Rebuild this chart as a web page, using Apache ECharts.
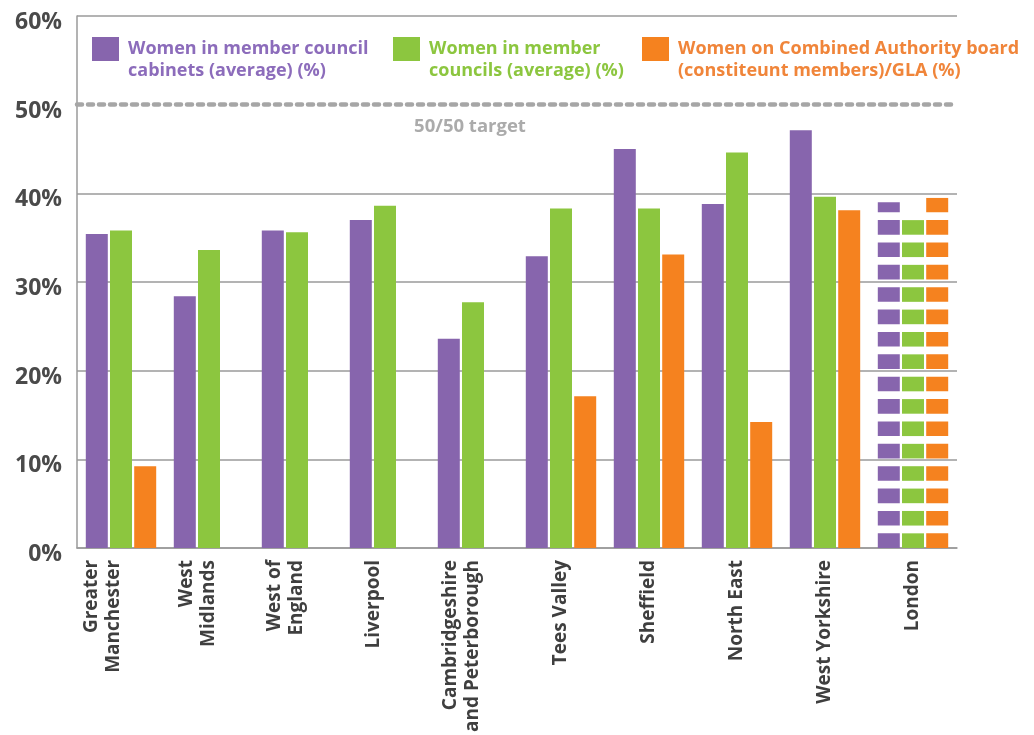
<!DOCTYPE html>
<html>
<head>
<meta charset="utf-8">
<script src="https://cdn.jsdelivr.net/npm/echarts@6/dist/echarts.min.js"></script>
<style>
  html, body { margin: 0; padding: 0; background: #ffffff; }
  #chart { width: 1034px; height: 735px; }
</style>
</head>
<body>
<div id="chart"></div>
<script>
// Combined authority areas
const categories = [
  'Greater\nManchester', 'West\nMidlands', 'West of\nEngland', 'Liverpool',
  'Cambridgeshire\nand Peterborough', 'Tees Valley', 'Sheffield', 'North East',
  'West Yorkshire', 'London'
];
// Women in member council cabinets (average) (%)
const cabinets = [35.4, 28.4, 35.8, 37.0, 23.6, 32.9, 45.0, 38.8, 47.1, 39.0];
// Women in member councils (average) (%)
const councils = [35.8, 33.6, 35.6, 38.6, 27.7, 38.3, 38.3, 44.6, 39.6, 37.0];
// Women on Combined Authority board (constituent members) / GLA (%)
const boards = [9.2, 0, 0, 0, 0, 17.1, 33.1, 14.2, 38.1, 39.5];
// London figures are drawn striped
const stripedCategory = 'London';
const yTicks = [0, 10, 20, 30, 40, 50, 60];
const target = 50;

const seriesNames = [
  'Women in member council cabinets (average) (%)',
  'Women in member councils (average) (%)',
  'Women on Combined Authority board (constituent members)/GLA (%)'
];
const legendText = [
  'Women in member council\ncabinets (average) (%)',
  'Women in member\ncouncils (average) (%)',
  'Women on Combined Authority board\n(constiteunt members)/GLA (%)'
];
const colors = ['#8765ad', '#8cc63f', '#f5821f'];
const legendColors = ['#8c6cbb', '#8cc63f', '#f0853a'];
const FONT = '"Open Sans", sans-serif';

const stripedIdx = categories.indexOf(stripedCategory);
const plain = arr => arr.map((v, i) => (i === stripedIdx ? '-' : v));
const striped = arr => arr.map((v, i) => (i === stripedIdx ? v : '-'));

// an empty trailing line (rich token) nudges the left-hand labels to the left
const labelNudge = ['n36', 'n22', 'n22', 'n22', 'n22', null, null, null, null, null];

const BAR_W = 22;
const BAR_GAP = '10%';
const CAT_GAP = '20%';

const series = [];
[cabinets, councils, boards].forEach((arr, k) => {
  series.push({
    type: 'bar',
    name: seriesNames[k],
    data: plain(arr),
    barWidth: BAR_W,
    barGap: BAR_GAP,
    barCategoryGap: CAT_GAP,
    itemStyle: { color: colors[k] },
    markLine: k === 0 ? {
      silent: true,
      symbol: 'none',
      lineStyle: { color: '#a6a6a6', type: [5, 6], width: 4.5, cap: 'round' },
      label: {
        show: true,
        position: 'insideMiddleBottom',
        formatter: '50/50 target',
        color: '#ababab',
        fontFamily: FONT,
        fontWeight: 'bold',
        fontSize: 18.5,
        offset: [-47, 8]
      },
      data: [{ yAxis: target }]
    } : undefined
  });
});
[cabinets, councils, boards].forEach((arr, k) => {
  series.push({
    type: 'pictorialBar',
    name: seriesNames[k],
    data: striped(arr),
    symbol: 'rect',
    symbolRepeat: 16,
    symbolSize: [BAR_W, 14.6],
    symbolClip: true,
    symbolBoundingData: 39.5,
    barWidth: BAR_W,
    barGap: BAR_GAP,
    barCategoryGap: CAT_GAP,
    itemStyle: { color: colors[k] },
    z: 3
  });
});

// square swatch sitting at the top of a two-line legend entry
const swatch = 'path://M0,0H27V24H0Z M0,46L0.01,46';
const legendLefts = [92, 393, 642];
const legends = seriesNames.map((name, k) => ({
  left: legendLefts[k],
  top: 37,
  padding: 0,
  icon: swatch,
  itemWidth: 27,
  itemHeight: 46,
  selectedMode: false,
  data: [name],
  formatter: () => legendText[k],
  textStyle: {
    color: legendColors[k],
    fontFamily: FONT,
    fontWeight: 'bold',
    fontSize: 18,
    lineHeight: 22,
    padding: [0, 0, 0, 4]
  }
}));

const chart = echarts.init(document.getElementById('chart'), null, { renderer: 'canvas' });
chart.setOption({
  animation: false,
  backgroundColor: '#ffffff',
  grid: { left: 77, right: 77, top: 16, bottom: 186, containLabel: false },
  legend: legends,
  xAxis: {
    type: 'category',
    data: categories,
    axisTick: { show: false },
    axisLine: { lineStyle: { color: '#9a9a9a', width: 1.5 } },
    axisLabel: {
      rotate: 90,
      interval: 0,
      margin: 12,
      color: '#3f3f3f',
      fontFamily: FONT,
      fontWeight: 'bold',
      fontSize: 19,
      lineHeight: 22,
      formatter: (v, i) => (labelNudge[i] ? v + '\n{' + labelNudge[i] + '| }' : v),
      rich: {
        n36: { lineHeight: 36, fontSize: 19 },
        n22: { lineHeight: 22, fontSize: 19 }
      }
    }
  },
  yAxis: {
    type: 'value',
    min: yTicks[0],
    max: yTicks[yTicks.length - 1],
    interval: 10,
    axisLine: { show: true, lineStyle: { color: '#9a9a9a', width: 1.5 } },
    axisTick: { show: false },
    axisLabel: {
      formatter: v => v + '%',
      margin: 15,
      color: '#4a4a4a',
      fontFamily: FONT,
      fontWeight: 'bold',
      fontSize: 23,
      verticalAlign: 'top',
      padding: [-5, 0, 0, 0]
    },
    splitLine: {
      show: true,
      lineStyle: {
        width: 1.5,
        color: yTicks.map(t => (t === target ? 'rgba(0,0,0,0)' : '#9a9a9a'))
      }
    }
  },
  series: series
});
</script>
</body>
</html>
